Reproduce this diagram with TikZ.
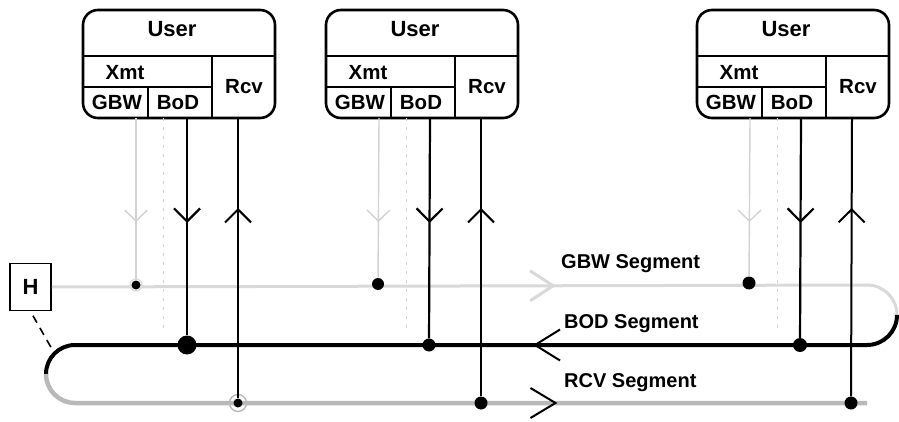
\documentclass[tikz,border=0pt]{standalone}
\usepackage{fontspec}
\setmainfont{Liberation Sans}
\usetikzlibrary{positioning,arrows.meta,decorations.markings}

\begin{document}
\begin{tikzpicture}[x=1pt,y=-1pt,
   user box/.style={draw,line width=2.6pt,rounded corners=15pt,
                    minimum width=192pt,minimum height=108pt,inner sep=0pt},
   inner line/.style={line width=2.2pt},
   box text/.style={font=\bfseries\fontsize{20.5}{24}\selectfont,inner sep=0pt,anchor=base},
   seg text/.style={font=\bfseries\fontsize{20}{24}\selectfont,inner sep=0pt,anchor=base west},
   hbox/.style={draw,line width=1.8pt,minimum width=41pt,minimum height=47pt,
                inner sep=0pt,font=\bfseries\fontsize{22}{26}\selectfont},
   tap/.style={circle,fill=black,inner sep=0pt,minimum size=#1},
   gbw seg/.style={gray!30,line width=3pt},
   bod seg/.style={black,line width=4pt},
   rcv seg/.style={gray!55,line width=4.5pt},
   gbw drop/.style={gray!35,line width=1.4pt,postaction={decorate},
      decoration={markings,mark=at position 104pt with
         {\arrow{Straight Barb[length=11pt,width=23pt]}}}},
   bod drop/.style={black,line width=2.2pt,postaction={decorate},
      decoration={markings,mark=at position 105pt with
         {\arrow{Straight Barb[length=13pt,width=26pt]}}}},
   rcv rise/.style={black,line width=2pt,postaction={decorate},
      decoration={markings,mark=at position -90pt with
         {\arrow{Straight Barb[length=13pt,width=26pt]}}}},
   faint line/.style={gray!35,line width=0.8pt,dash pattern=on 3pt off 6pt}
   ]
   \useasboundingbox (0,0) rectangle (899,422);

   % users
   \foreach \L/\n in {83/a,326/b,697/c}{
     \begin{scope}[shift={(\L,0)}]
       \node[user box] (user\n) at (96,64) {};
       \draw[inner line] (0,56) -- (192,56);
       \draw[inner line] (129,56) -- (129,118);
       \draw[inner line] (0,87) -- (129,87);
       \draw[inner line] (65,87) -- (65,118);
       \node[box text,font=\bfseries\fontsize{22}{26}\selectfont] at (89,37) {User};
       \node[box text] at (42,80) {Xmt};
       \node[box text] at (34,110) {GBW};
       \node[box text] at (95,110) {BoD};
       \node[box text] at (161,94) {Rcv};
       \coordinate (g\n) at (53,118);
       \coordinate (f\n) at (80,118);
       \coordinate (b\n) at (104,118);
       \coordinate (r\n) at (155,118);
       \coordinate (fe\n) at (80,330);
     \end{scope}
   }

   % segments
   \node[hbox] (H) at (30.5,287) {H};
   \coordinate (gbwend) at (867,285);
   \coordinate (bodend) at (75,345);
   \coordinate (rcvend) at (867,403);
   \coordinate (hbend) at (54.5,353.5);

   \draw[gbw seg,postaction={decorate},
      decoration={markings,mark=at position 504pt with
         {\arrow{Straight Barb[length=23pt,width=30pt]}}}]
      (H.east) -- (gbwend) arc[start angle=90,end angle=0,radius=30pt] coordinate (turnR);
   \draw[bod seg,postaction={decorate},
      decoration={markings,mark=at position 381pt with
         {\arrow[black,line width=2pt]{Straight Barb[length=25pt,width=31pt]}}}]
      (turnR) arc[start angle=0,end angle=-90,radius=30pt] -- (bodend)
      arc[start angle=90,end angle=180,radius=29pt] coordinate (turnL);
   \draw[rcv seg,postaction={decorate},
      decoration={markings,mark=at position 528pt with
         {\arrow[black,line width=2pt]{Straight Barb[length=25pt,width=30pt]}}}]
      (turnL) arc[start angle=180,end angle=270,radius=29pt] -- (rcvend);
   \draw[line width=1.6pt,dash pattern=on 8pt off 6pt,shorten <=5pt] (H.south) -- (hbend);

   \node[seg text] (gbwlbl) at (561,268.5) {GBW Segment};
   \node[seg text] (bodlbl) at (564,328) {BOD Segment};
   \node[seg text] (rcvlbl) at (564,387) {RCV Segment};

   % taps
   \draw[gray!25,line width=1.5pt] (136,285) circle[radius=6pt];
   \node[tap=9pt] (gbwa) at (136,285) {};
   \node[tap=12pt] (gbwb) at (378,284) {};
   \node[tap=13pt] (gbwc) at (749,283) {};
   \node[tap=19pt] (boda) at (187,345) {};
   \node[tap=13pt] (bodb) at (429,345) {};
   \node[tap=14pt] (bodc) at (800,345) {};
   \draw[gray!55,line width=1.4pt] (238,403) circle[radius=8.5pt];
   \node[tap=9pt] (rcva) at (238,403) {};
   \node[tap=13pt] (rcvb) at (481,403) {};
   \node[tap=13pt] (rcvc) at (851,403) {};

   \foreach \n in {a,b,c}{
     \draw[faint line] (f\n) -- (fe\n);
   }
   \path%
    (ga) edge[gbw drop] (gbwa)
    (gb) edge[gbw drop] (gbwb)
    (gc) edge[gbw drop] (gbwc)
    (ba) edge[bod drop] (boda)
    (bb) edge[bod drop] (bodb)
    (bc) edge[bod drop] (bodc)
    (rcva) edge[rcv rise] (ra)
    (rcvb) edge[rcv rise] (rb)
    (rcvc) edge[rcv rise] (rc);
\end{tikzpicture}
\end{document}
